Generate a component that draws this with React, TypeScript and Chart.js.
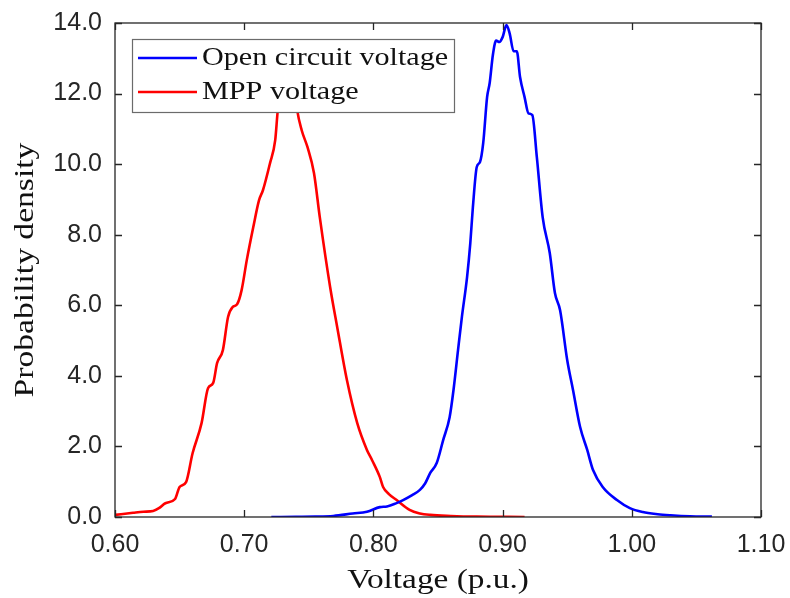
import React, { useEffect, useRef } from "react";
import { Chart, registerables } from "chart.js";

Chart.register(...registerables);

// Open circuit voltage (blue)
const ocVoltage = [
  0.721, 0.74, 0.755, 0.769, 0.784, 0.795, 0.805, 0.8105, 0.817, 0.823, 0.83, 0.836, 0.84, 0.844, 0.849,
  0.854, 0.859, 0.862, 0.8655, 0.8685, 0.8725, 0.875, 0.877, 0.88, 0.8825, 0.885, 0.888, 0.89, 0.8925,
  0.895, 0.8975, 0.9, 0.903, 0.9055, 0.9085, 0.911, 0.9135, 0.917, 0.92, 0.923, 0.9265, 0.931, 0.9365,
  0.9405, 0.9445, 0.95, 0.9545, 0.96, 0.9655, 0.97, 0.9775, 0.9885, 0.9985, 1.0085, 1.02, 1.03, 1.045, 1.062,
];
const ocDensity = [
  0.0, 0.005, 0.01, 0.03, 0.1, 0.15, 0.28, 0.3, 0.38, 0.48, 0.62, 0.77, 0.95, 1.25, 1.53,
  2.18, 2.83, 3.6, 4.73, 5.67, 6.8, 7.76, 8.78, 9.92, 10.06, 10.6, 11.9, 12.3, 13.1,
  13.5, 13.46, 13.6, 13.94, 13.7, 13.2, 13.2, 12.47, 11.9, 11.44, 11.39, 10.2, 8.5, 7.48,
  6.35, 5.86, 4.45, 3.6, 2.55, 1.9, 1.33, 0.85, 0.48, 0.25, 0.14, 0.08, 0.05, 0.02, 0.01,
];

// MPP voltage (red)
const mppVoltage = [
  0.6, 0.614, 0.622, 0.6295, 0.634, 0.639, 0.6465, 0.65, 0.655, 0.66, 0.667, 0.672, 0.676, 0.679,
  0.6835, 0.6875, 0.691, 0.6945, 0.698, 0.702, 0.707, 0.7115, 0.7145, 0.72, 0.724, 0.726, 0.729,
  0.733, 0.737, 0.741, 0.7445, 0.749, 0.754, 0.7585, 0.7665, 0.772, 0.7795, 0.7875, 0.795, 0.799,
  0.805, 0.8075, 0.812, 0.818, 0.828, 0.836, 0.844, 0.86, 0.88, 0.917,
];
const mppDensity = [
  0.06, 0.12, 0.15, 0.17, 0.25, 0.39, 0.51, 0.85, 0.99, 1.8, 2.66, 3.65, 3.8, 4.36,
  4.73, 5.67, 5.95, 6.03, 6.43, 7.28, 8.21, 8.98, 9.26, 10.03, 10.68, 11.53, 12.3,
  12.9, 12.8, 11.53, 10.96, 10.48, 9.75, 8.5, 6.52, 5.38, 3.88, 2.66, 1.9, 1.61,
  1.13, 0.85, 0.65, 0.48, 0.2, 0.1, 0.06, 0.03, 0.01, 0.0,
];

const seriesNames = ["Open circuit voltage", "MPP voltage"];
const seriesColors = ["#0000FF", "#FF0000"];
const xTickValues = [0.6, 0.7, 0.8, 0.9, 1.0, 1.1];
const yTickValues = [0, 2, 4, 6, 8, 10, 12, 14];
const xTitle = "Voltage (p.u.)";
const yTitle = "Probability density";

const AXIS_COLOR = "#262626";
const SERIF = '"Liberation Serif", "Times New Roman", serif';
const SANS = '"Liberation Sans", Arial, Helvetica, sans-serif';

function drawStretched(
  ctx: CanvasRenderingContext2D,
  text: string,
  x: number,
  y: number,
  font: string,
  sx: number,
  align: CanvasTextAlign,
  rotate: boolean
) {
  ctx.save();
  ctx.translate(x, y);
  if (rotate) ctx.rotate(-Math.PI / 2);
  ctx.scale(sx, 1);
  ctx.font = font;
  ctx.textAlign = align;
  ctx.textBaseline = "alphabetic";
  ctx.fillStyle = "#111111";
  ctx.fillText(text, 0, 0);
  ctx.restore();
}

const decorPlugin = {
  id: "decor",
  afterDatasetsDraw(chart: any) {
    const { ctx, chartArea, scales } = chart;
    const { left, right, top, bottom } = chartArea;
    ctx.save();
    // box
    ctx.strokeStyle = AXIS_COLOR;
    ctx.lineWidth = 1.3;
    ctx.strokeRect(left, top, right - left, bottom - top);
    // inward ticks
    const tl = 7;
    ctx.beginPath();
    for (const v of xTickValues) {
      const px = Math.round(scales.x.getPixelForValue(v)) + 0.5;
      ctx.moveTo(px, bottom);
      ctx.lineTo(px, bottom - tl);
      ctx.moveTo(px, top);
      ctx.lineTo(px, top + tl);
    }
    for (const v of yTickValues) {
      const py = Math.round(scales.y.getPixelForValue(v)) + 0.5;
      ctx.moveTo(left, py);
      ctx.lineTo(left + tl, py);
      ctx.moveTo(right, py);
      ctx.lineTo(right - tl, py);
    }
    ctx.stroke();

    // legend
    const lx = left + 17;
    const ly = top + 16;
    const lw = 322;
    const lh = 73;
    ctx.fillStyle = "#ffffff";
    ctx.fillRect(lx, ly, lw, lh);
    ctx.strokeStyle = "#6b6b6b";
    ctx.lineWidth = 1.2;
    ctx.strokeRect(lx + 0.5, ly + 0.5, lw, lh);
    const rows = [ly + 19, ly + 53];
    seriesNames.forEach((name, i) => {
      ctx.strokeStyle = seriesColors[i];
      ctx.lineWidth = 2.6;
      ctx.beginPath();
      ctx.moveTo(lx + 6, rows[i]);
      ctx.lineTo(lx + 65, rows[i]);
      ctx.stroke();
      drawStretched(ctx, name, lx + 70, rows[i] + 7, `26px ${SERIF}`, 1.16, "left", false);
    });

    // axis titles
    drawStretched(ctx, xTitle, (left + right) / 2, 588, `28px ${SERIF}`, 1.19, "center", false);
    drawStretched(ctx, yTitle, 33, (top + bottom) / 2, `28px ${SERIF}`, 1.2, "center", true);
    ctx.restore();
  },
};

function zeroPadding(s: any) {
  s.paddingLeft = 0;
  s.paddingRight = 0;
  s.paddingTop = 0;
  s.paddingBottom = 0;
}

export default function App() {
  const ref = useRef<HTMLCanvasElement | null>(null);

  useEffect(() => {
    document.body.style.margin = "0";
    const canvas = ref.current;
    if (!canvas) return;
    const mk = (xs: number[], ys: number[]) => xs.map((x, i) => ({ x, y: ys[i] }));
    const chart = new Chart(canvas, {
      type: "line",
      data: {
        datasets: [
          {
            label: seriesNames[0],
            data: mk(ocVoltage, ocDensity),
            borderColor: seriesColors[0],
            backgroundColor: seriesColors[0],
            borderWidth: 2.6,
            pointRadius: 0,
            cubicInterpolationMode: "monotone",
            fill: false,
          },
          {
            label: seriesNames[1],
            data: mk(mppVoltage, mppDensity),
            borderColor: seriesColors[1],
            backgroundColor: seriesColors[1],
            borderWidth: 2.6,
            pointRadius: 0,
            cubicInterpolationMode: "monotone",
            fill: false,
          },
        ],
      },
      options: {
        responsive: false,
        animation: false,
        devicePixelRatio: 1,
        layout: { padding: { top: 23, right: 29, left: 0, bottom: 0 } },
        plugins: { legend: { display: false }, tooltip: { enabled: false } },
        scales: {
          x: {
            type: "linear",
            min: 0.6,
            max: 1.1,
            afterFit: (s: any) => {
              s.height = 81;
              zeroPadding(s);
            },
            afterBuildTicks: (s: any) => {
              s.ticks = xTickValues.map((v) => ({ value: v }));
            },
            grid: { display: false, drawTicks: false },
            border: { display: false },
            ticks: {
              padding: 13,
              color: AXIS_COLOR,
              font: { family: SANS, size: 25 },
              maxRotation: 0,
              callback: (v: any) => Number(v).toFixed(2),
            },
          },
          y: {
            type: "linear",
            min: 0,
            max: 14,
            afterFit: (s: any) => {
              s.width = 115;
              zeroPadding(s);
            },
            afterBuildTicks: (s: any) => {
              s.ticks = yTickValues.map((v) => ({ value: v }));
            },
            grid: { display: false, drawTicks: false },
            border: { display: false },
            ticks: {
              padding: 13,
              color: AXIS_COLOR,
              font: { family: SANS, size: 25 },
              callback: (v: any) => Number(v).toFixed(1),
            },
          },
        },
      },
      plugins: [decorPlugin],
    });
    return () => chart.destroy();
  }, []);

  return <canvas ref={ref} width={790} height={598} style={{ display: "block" }} />;
}
